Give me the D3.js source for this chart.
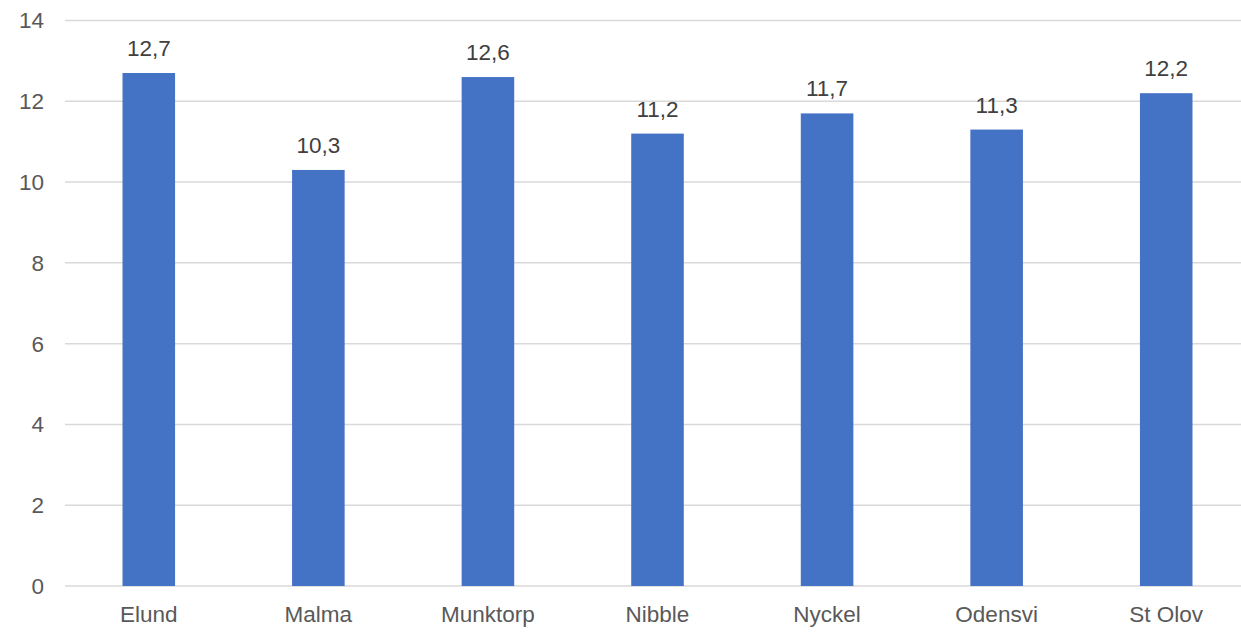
<!DOCTYPE html>
<html><head><meta charset="utf-8">
<script src="https://cdn.jsdelivr.net/npm/d3@7"></script>
<style>body{margin:0;background:#fff}svg{display:block}</style>
</head><body>
<svg id="c" width="1241" height="632"></svg>
<script>
const categories = ["Elund","Malma","Munktorp","Nibble","Nyckel","Odensvi","St Olov"];
const values = [12.7,10.3,12.6,11.2,11.7,11.3,12.2];
const yTicks = [0,2,4,6,8,10,12,14];

(function(){
const svg = d3.select("#c");
const mLeft = 64, mRight = 1251, mTop = 20.5, mBottom = 586;
const x = d3.scaleBand().domain(categories).range([mLeft, mRight]).paddingInner(0.69).paddingOuter(0.345);
const y = d3.scaleLinear().domain([0,14]).range([mBottom, mTop]);
const font = "'Liberation Sans', Arial, sans-serif";
const fs = 22.5;

svg.append("g").selectAll("line").data(yTicks).join("line")
  .attr("x1", 65).attr("x2", 1241)
  .attr("y1", d => y(d)).attr("y2", d => y(d))
  .attr("stroke", "#d9d9d9").attr("stroke-width", 1.5);

svg.append("g").selectAll("text").data(yTicks).join("text")
  .attr("x", 44).attr("y", d => y(d)).attr("dy", "0.35em")
  .attr("text-anchor", "end").attr("font-family", font).attr("font-size", fs)
  .attr("fill", "#595959").text(d => d);

svg.append("g").selectAll("rect").data(values).join("rect")
  .attr("x", (d,i) => x(categories[i])).attr("width", x.bandwidth())
  .attr("y", d => y(d)).attr("height", d => y(0) - y(d))
  .attr("fill", "#4472C4");

svg.append("g").selectAll("text").data(values).join("text")
  .attr("x", (d,i) => x(categories[i]) + x.bandwidth()/2)
  .attr("y", d => y(d) - 17)
  .attr("text-anchor", "middle").attr("font-family", font).attr("font-size", fs)
  .attr("fill", "#404040").text(d => d.toFixed(1).replace(".", ","));

svg.append("g").selectAll("text").data(categories).join("text")
  .attr("x", d => x(d) + x.bandwidth()/2).attr("y", 622)
  .attr("text-anchor", "middle").attr("font-family", font).attr("font-size", fs)
  .attr("fill", "#595959").text(d => d);
})();
</script>
</body></html>
